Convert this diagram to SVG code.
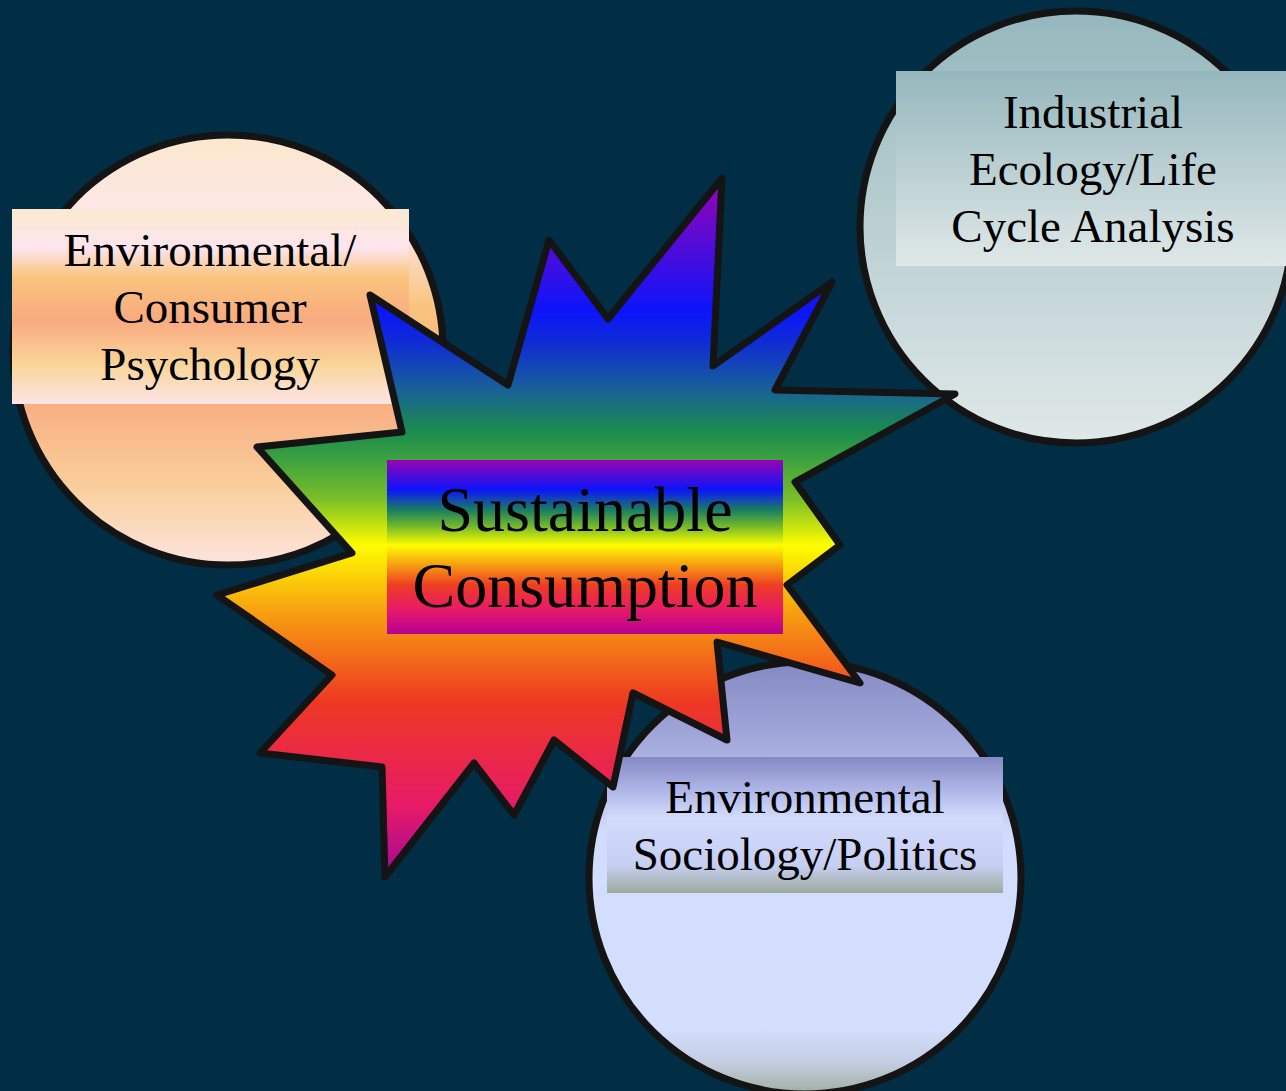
<svg xmlns="http://www.w3.org/2000/svg" width="1286" height="1091" viewBox="0 0 1286 1091">
<defs>
<linearGradient id="gPeachCircle" x1="0" y1="0" x2="0" y2="1">
<stop offset="0" stop-color="#fbe8cc"/>
<stop offset="0.2" stop-color="#fde6ea"/>
<stop offset="0.4" stop-color="#f9c47e"/>
<stop offset="0.62" stop-color="#f9ae82"/>
<stop offset="0.82" stop-color="#f9cf9c"/>
<stop offset="1" stop-color="#fde4e0"/>
</linearGradient>
<linearGradient id="gPeachBox" x1="0" y1="0" x2="0" y2="1">
<stop offset="0" stop-color="#fbe9cf"/>
<stop offset="0.2" stop-color="#fde5ef"/>
<stop offset="0.35" stop-color="#f9c47c"/>
<stop offset="0.57" stop-color="#f9aa80"/>
<stop offset="0.8" stop-color="#fad59a"/>
<stop offset="1" stop-color="#fde4e6"/>
</linearGradient>
<linearGradient id="gTeal" x1="0" y1="0" x2="0" y2="1">
<stop offset="0" stop-color="#95b7bd"/>
<stop offset="1" stop-color="#e0e8e8"/>
</linearGradient>
<linearGradient id="gBlueCircle" x1="0" y1="0" x2="0" y2="1">
<stop offset="0" stop-color="#8589c4"/>
<stop offset="0.18" stop-color="#a2a8da"/>
<stop offset="0.4" stop-color="#d2dcfc"/>
<stop offset="0.85" stop-color="#d4defd"/>
<stop offset="0.93" stop-color="#c3cce0"/>
<stop offset="1" stop-color="#9fae9f"/>
</linearGradient>
<linearGradient id="gBlueBox" x1="0" y1="0" x2="0" y2="1">
<stop offset="0" stop-color="#8589c4"/>
<stop offset="0.25" stop-color="#b0b7e8"/>
<stop offset="0.45" stop-color="#d2dcfc"/>
<stop offset="0.8" stop-color="#c6cef2"/>
<stop offset="1" stop-color="#9dab9c"/>
</linearGradient>
<linearGradient id="gRainbowBox" x1="0" y1="0" x2="0" y2="1">
<stop offset="0" stop-color="#9a03b3"/>
<stop offset="0.17" stop-color="#0c14fb"/>
<stop offset="0.29" stop-color="#1a8060"/>
<stop offset="0.38" stop-color="#73b82a"/>
<stop offset="0.49" stop-color="#fdfd00"/>
<stop offset="0.6" stop-color="#f7a012"/>
<stop offset="0.72" stop-color="#ee3d22"/>
<stop offset="0.86" stop-color="#e81a68"/>
<stop offset="1" stop-color="#b60095"/>
</linearGradient>
<linearGradient id="gRainbowStar" gradientUnits="userSpaceOnUse" x1="0" y1="178" x2="0" y2="877">
<stop offset="0" stop-color="#9a03b3"/>
<stop offset="0.19" stop-color="#0c14fb"/>
<stop offset="0.24" stop-color="#0f2fd0"/>
<stop offset="0.3" stop-color="#185f9a"/>
<stop offset="0.36" stop-color="#1a8a50"/>
<stop offset="0.4" stop-color="#3aa040"/>
<stop offset="0.46" stop-color="#7bbf28"/>
<stop offset="0.525" stop-color="#fdfd00"/>
<stop offset="0.62" stop-color="#f8a010"/>
<stop offset="0.75" stop-color="#ee3823"/>
<stop offset="0.9" stop-color="#e61a68"/>
<stop offset="1" stop-color="#a00898"/>
</linearGradient>
</defs>
<style>
.circ{stroke:#141414;stroke-width:7}
.lbl{font-family:"Liberation Serif","Times New Roman",serif;font-size:47px;fill:#000;text-anchor:middle}
.big{font-family:"Liberation Serif","Times New Roman",serif;font-size:64px;fill:#000;text-anchor:middle}
</style>
<rect x="0" y="0" width="1286" height="1091" fill="#012e44"/>
<g id="node-psychology">
<circle class="circ" cx="228" cy="350" r="215" fill="url(#gPeachCircle)"/>
<rect x="12" y="209" width="397" height="195" fill="url(#gPeachBox)"/>
<text class="lbl" x="210" y="266">Environmental/</text>
<text class="lbl" x="210" y="323">Consumer</text>
<text class="lbl" x="210" y="380">Psychology</text>
</g>
<g id="node-industrial">
<circle class="circ" cx="1076" cy="227" r="216" fill="url(#gTeal)"/>
<rect x="896" y="71" width="394" height="195" fill="url(#gTeal)"/>
<text class="lbl" x="1093" y="128">Industrial</text>
<text class="lbl" x="1093" y="185">Ecology/Life</text>
<text class="lbl" x="1093" y="242">Cycle Analysis</text>
</g>
<g id="node-sociology">
<circle class="circ" cx="805" cy="878" r="216" fill="url(#gBlueCircle)"/>
<rect x="607" y="757" width="396" height="136" fill="url(#gBlueBox)"/>
<text class="lbl" x="805" y="813">Environmental</text>
<text class="lbl" x="805" y="870">Sociology/Politics</text>
</g>
<g id="node-sustainable">
<polygon points="722,178 713,366 832,282 775,390 955,394 795,482 840,545 787,585 860,683 717,642 727,740 633,693 613,787 554,740 514,815 474,763 385,877 382,767 260,753 332,675 217,595 352,553 257,447 402,432 370,295 508,385 549,240 608,319" fill="url(#gRainbowStar)" stroke="#141414" stroke-width="7" stroke-linejoin="round"/>
<rect x="387" y="460" width="396" height="174" fill="url(#gRainbowBox)"/>
<text class="big" x="585" y="531">Sustainable</text>
<text class="big" x="585" y="607">Consumption</text>
</g>
<g id="connectors"/>
</svg>
